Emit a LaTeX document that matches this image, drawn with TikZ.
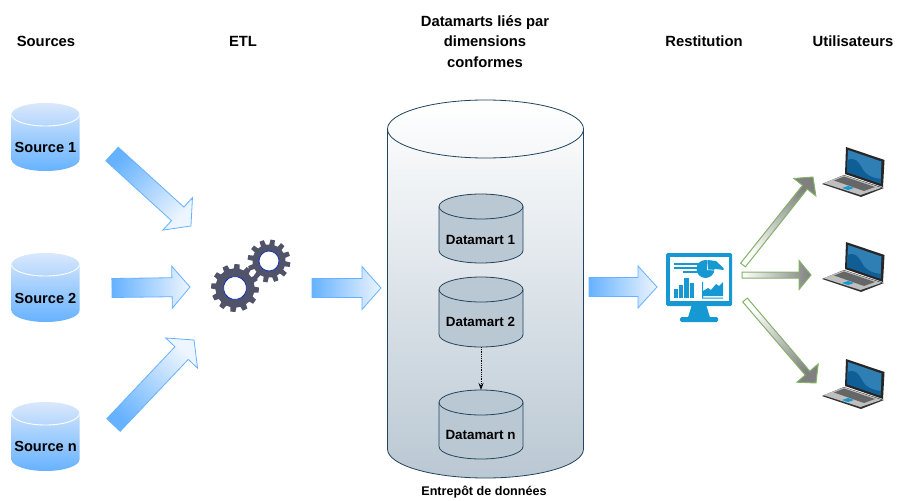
\documentclass[tikz,border=0pt]{standalone}
\usepackage{fontspec}
\setmainfont{Liberation Sans}
\usetikzlibrary{calc,arrows.meta}
\definecolor{bluedark}{HTML}{66B2FF}
\definecolor{bluelight}{HTML}{EDF5FF}
\definecolor{srctop}{HTML}{DAE8FC}
\definecolor{greenfill}{HTML}{D5E8D4}
\definecolor{greenline}{HTML}{82B366}
\definecolor{slate}{HTML}{23445D}
\definecolor{dmfill}{HTML}{BAC8D3}
\definecolor{gearcol}{HTML}{50536A}
\definecolor{gearhole}{HTML}{1030B0}
\definecolor{mon}{HTML}{1699D3}
\definecolor{lapblue}{HTML}{2F7FB5}
\definecolor{lapdark}{HTML}{0F5E96}
\tikzset{
  head/.style={font=\fontsize{14.8}{20.5}\selectfont\bfseries,align=center,inner sep=0pt},
  srclabel/.style={font=\fontsize{14.6}{16}\selectfont\bfseries,inner sep=0pt},
  dmlabel/.style={font=\fontsize{13.4}{16}\selectfont\bfseries,inner sep=0pt},
  ghost/.style={inner sep=0pt,outer sep=0pt},
  bluearrow/.style={draw=bluedark,line width=.8pt,top color=bluelight,bottom color=bluedark},
  greenarrow/.style={draw=greenline,line width=1pt,fill=greenfill},
}
% block arrow between two named coordinates: tail, tip, half width, half head width, head length, style
\newcommand{\blockarrow}[6]{%
  \path let \p1=($(#2)-(#1)$), \n1={atan2(\y1,\x1)}, \n2={veclen(\x1,\y1)} in
    \pgfextra{\xdef\baang{\n1}\xdef\balen{\n2}};
  \pgfmathsetmacro{\bashade}{\baang-90}
  \pgfmathsetmacro{\baneck}{\balen/1pt-#5}
  \begin{scope}[shift={(#1)},rotate=\baang]
    \path[#6,shading angle=\bashade] (0pt,#3pt) -- (\baneck pt,#3pt) -- (\baneck pt,#4pt) -- (\balen,0pt)
      -- (\baneck pt,-#4pt) -- (\baneck pt,-#3pt) -- (0pt,-#3pt) -- cycle;
  \end{scope}}
% cylinder outline, centre x, half width, top y, bottom y, ellipse half height
\newcommand{\cylbody}[6]{%
  \pgfmathsetmacro{\cxa}{#1-#2}\pgfmathsetmacro{\cxb}{#1+#2}
  \pgfmathsetmacro{\cka}{#1-.5523*#2}\pgfmathsetmacro{\ckb}{#1+.5523*#2}
  \pgfmathsetmacro{\cyt}{#3+#5}\pgfmathsetmacro{\cyb}{#4-#5}
  \pgfmathsetmacro{\cyta}{#3+#5-.5523*#5}\pgfmathsetmacro{\cytb}{#3+#5+.5523*#5}
  \pgfmathsetmacro{\cyba}{#4-#5+.5523*#5}
  \path[#6] (\cxa,\cyt) -- (\cxa,\cyb) .. controls (\cxa,\cyba) and (\cka,#4) .. (#1,#4)
     .. controls (\ckb,#4) and (\cxb,\cyba) .. (\cxb,\cyb) -- (\cxb,\cyt)
     .. controls (\cxb,\cyta) and (\ckb,#3) .. (#1,#3)
     .. controls (\cka,#3) and (\cxa,\cyta) .. cycle;}
\newcommand{\cylrim}[1]{%
  \path[#1] (\cxa,\cyt) .. controls (\cxa,\cytb) and (\cka,\cyt+\cyt-#1cylzero) .. (0,0);}
\newcommand{\cylfront}[3]{% centre x, half ry, style
  \path[#3] (\cxa,\cyt) .. controls (\cxa,\cytb) and (\cka,\cyt+#2) .. (#1,\cyt+#2)
     .. controls (\ckb,\cyt+#2) and (\cxb,\cytb) .. (\cxb,\cyt);}
\newcommand{\gear}[6]{% x,y,outer,root,hole,rotation
  \begin{scope}[shift={(#1,#2)},rotate=#6]
    \fill[gearcol] (0:#4pt) \foreach \gi in {0,30,...,330}{
      -- ({\gi+0}:#4pt) -- ({\gi+6}:#4pt) -- ({\gi+9}:#3pt) -- ({\gi+21}:#3pt) -- ({\gi+24}:#4pt)
    } -- cycle;
    \draw[gearhole,line width=.8pt,fill=white] (0,0) circle[radius=#5pt];
  \end{scope}}
\newcommand{\laptop}[2]{%
  \begin{scope}[shift={(#1,#2)}]
    \fill[black!85] (846,147) -- (884.5,160) -- (883,187) -- (845,174) -- cycle;
    \fill[lapblue] (848,150) -- (881.5,161.5) -- (880.5,183.5) -- (847,172) -- cycle;
    \fill[lapdark] (847.5,160) .. controls (855,157) and (858,161) .. (862,168) .. controls (866,176) and (873,178) .. (880.7,179) -- (880.5,183.5) -- (847,172) -- cycle;
    \fill[black!80] (822,184) -- (844,175) -- (884,188) -- (861,197) -- cycle;
    \fill[black!25] (823.5,183.2) -- (844,175.3) -- (881.5,187.8) -- (860.5,195) -- cycle;
    \fill[black!60] (834,180.5) -- (844,176.5) -- (875,187) -- (864,191) -- cycle;
    \fill[mon] (842,188) -- (848,186) -- (854,188) -- (848,190) -- cycle;
  \end{scope}}
\begin{document}
\begin{tikzpicture}[x=1pt,y=-1pt]
\useasboundingbox (0,0) rectangle (901,500);
\fill[white] (0,0) rectangle (901,500);

% headings
\node[head] (hsources) at (46,41) {Sources};
\node[head] (hetl) at (243,41) {ETL};
\node[head] (hdm) at (485,41.5) {Datamarts liés par\\dimensions\\conformes};
\node[head] (hrest) at (704,41) {Restitution};
\node[head] (huser) at (853,41) {Utilisateurs};

% sources
\cylbody{45.5}{34}{103}{171}{11.5}{top color=srctop,bottom color=bluedark}
\cylfront{45.5}{11.5}{draw=white,line width=.9pt}
\node[srclabel] (s1) at (45.5,147) {Source 1};
\cylbody{45.5}{34}{253}{322}{11.5}{top color=srctop,bottom color=bluedark}
\cylfront{45.5}{11.5}{draw=white,line width=.9pt}
\node[srclabel] (s2) at (45.5,298) {Source 2};
\cylbody{45.5}{34}{402}{471}{11.5}{top color=srctop,bottom color=bluedark}
\cylfront{45.5}{11.5}{draw=white,line width=.9pt}
\node[srclabel] (s3) at (45.5,446) {Source n};

% gears
\gear{235}{288}{24}{19.5}{11.5}{10}
\gear{269}{261}{21.5}{16.5}{10}{5}
\node[ghost,minimum size=80pt] (etl) at (250,275) {};

% warehouse
\cylbody{485.5}{98}{100}{478}{29}{top color=white,bottom color=dmfill,draw=slate,line width=.8pt}
\cylfront{485.5}{29}{draw=slate,line width=.8pt}
\node[font=\fontsize{12.6}{14}\selectfont\bfseries,inner sep=0pt] (wh) at (484,492) {Entrepôt de données};

% datamarts
\cylbody{481}{42}{194}{263}{12.5}{fill=dmfill,draw=slate,line width=.8pt}
\cylfront{481}{12.5}{draw=slate,line width=.8pt}
\node[dmlabel] (d1) at (480.5,240) {Datamart 1};
\cylbody{481}{42}{277}{347}{12.5}{fill=dmfill,draw=slate,line width=.8pt}
\cylfront{481}{12.5}{draw=slate,line width=.8pt}
\node[dmlabel] (d2) at (480.5,322) {Datamart 2};
\cylbody{481}{42}{390}{459}{12.5}{fill=dmfill,draw=slate,line width=.8pt}
\cylfront{481}{12.5}{draw=slate,line width=.8pt}
\node[dmlabel] (d3) at (480.5,435) {Datamart n};
\node[ghost,minimum width=84pt,minimum height=70pt] (dmtwo) at (481,312) {};
\node[ghost,minimum width=84pt,minimum height=69pt] (dmn) at (481,424.5) {};
\draw[densely dotted,line width=.8pt,-{Stealth[open,length=7pt,width=5pt]}] (dmtwo.south) -- (dmn.north);

% monitor
\fill[mon,rounded corners=1.5pt] (666,253) rectangle (732,306);
\fill[white] (669.5,257) rectangle (728.5,300.5);
\fill[mon] (691.5,306) -- (706.5,306) -- (710,317.5) -- (688,317.5) -- cycle;
\fill[mon,rounded corners=1.5pt] (680,317) rectangle (718,322);
\fill[mon] (674,263) rectangle (700,265);
\fill[mon] (674,267) rectangle (700,269);
\fill[mon] (683,271) rectangle (700,273);
\fill[mon] (674,289) rectangle (678,298);
\fill[mon] (679,285) rectangle (683,298);
\fill[mon] (684,278) rectangle (689,298);
\fill[mon] (690,282.5) rectangle (694,298);
\fill[mon] (705.5,269) circle[radius=9];
\fill[mon] (708,260) -- (716,261) -- (723.5,268) -- (723.5,270) -- (708,268) -- cycle;
\fill[white] (707,259) -- (708,269.5) -- (724.5,270.5) -- (724.5,271) -- (707,270) -- cycle;
\fill[mon] (702,282) rectangle (703,298.5) (702,297.5) rectangle (723,298.5);
\fill[mon] (703,296) -- (703,291) -- (708,288) -- (711,290) -- (716,284) -- (719,286) -- (723,282) -- (723,296) -- cycle;

% laptops
\laptop{0}{0}
\laptop{0}{95}
\laptop{0}{212}

% block arrows
\coordinate (a1t) at (112,154);
\coordinate (a1h) at (191,226);
\coordinate (a2t) at (112,288);
\coordinate (a2h) at (190,287);
\coordinate (a3t) at (113.5,425);
\coordinate (a3h) at (194,340);
\coordinate (a4t) at (312,288);
\coordinate (a4h) at (381,288);
\coordinate (a5t) at (589,287);
\coordinate (a5h) at (657,287);
\blockarrow{a1t}{a1h}{9.2}{22}{18}{bluearrow}
\blockarrow{a2t}{a2h}{9.5}{21}{18}{bluearrow}
\blockarrow{a3t}{a3h}{9.2}{22}{18}{bluearrow}
\blockarrow{a4t}{a4h}{9.5}{21.5}{19}{bluearrow}
\blockarrow{a5t}{a5h}{9.5}{21}{19}{bluearrow}

\coordinate (g1t) at (743,265);
\coordinate (g1h) at (813,177);
\coordinate (g2t) at (742,275);
\coordinate (g2h) at (811,275);
\coordinate (g3t) at (745,300);
\coordinate (g3h) at (816,383);
\blockarrow{g1t}{g1h}{3}{14}{13}{greenarrow}
\blockarrow{g2t}{g2h}{3}{14.5}{12}{greenarrow}
\blockarrow{g3t}{g3h}{3}{14}{13}{greenarrow}
\end{tikzpicture}
\end{document}
